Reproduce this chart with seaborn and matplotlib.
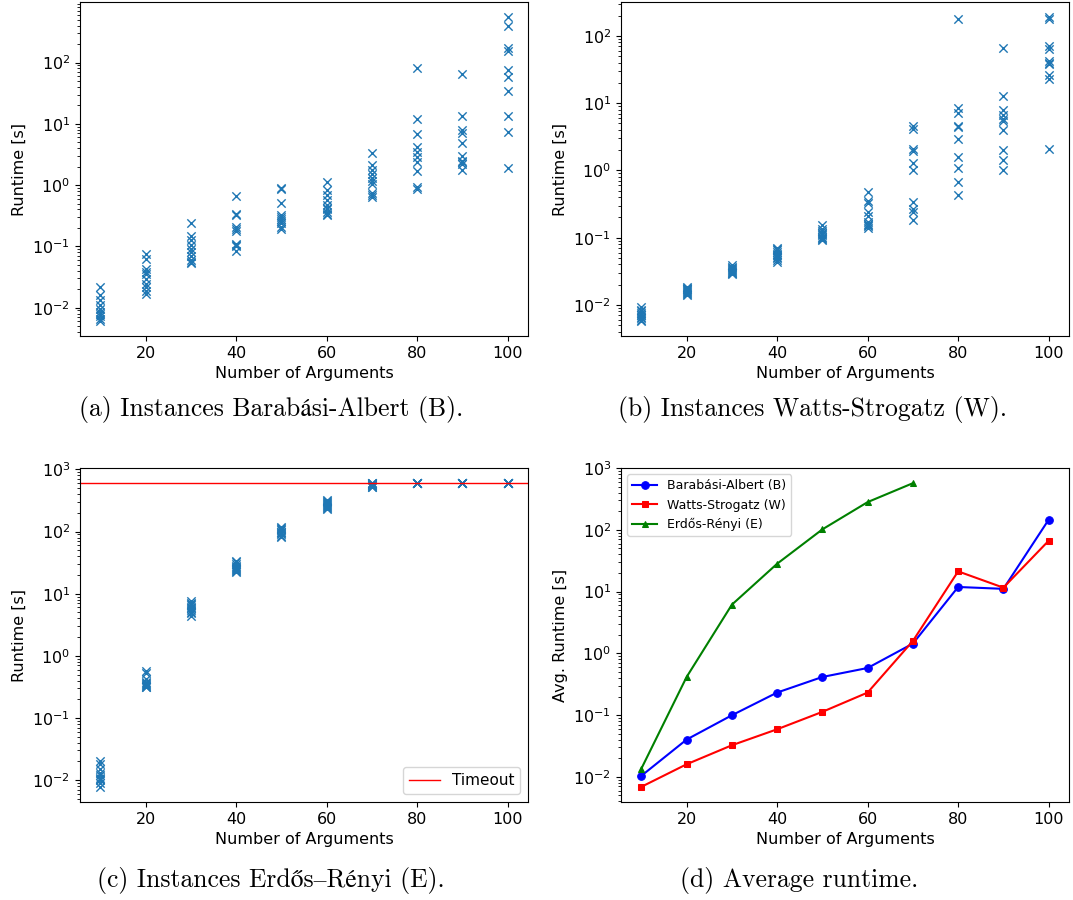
import numpy as np
import pandas as pd
import matplotlib
matplotlib.use("Agg")
import matplotlib.pyplot as plt
import seaborn as sns

# ---------------- data ----------------
n_args = [10, 20, 30, 40, 50, 60, 70, 80, 90, 100]

ba_runtimes = [
    [0.022, 0.016, 0.0135, 0.011, 0.0095, 0.0085, 0.0078, 0.0072, 0.0066, 0.0061],
    [0.074, 0.062, 0.042, 0.038, 0.035, 0.029, 0.024, 0.022, 0.019, 0.0165],
    [0.24, 0.15, 0.125, 0.105, 0.09, 0.08, 0.07, 0.06, 0.056, 0.053],
    [0.66, 0.34, 0.32, 0.21, 0.19, 0.18, 0.11, 0.105, 0.10, 0.085],
    [0.91, 0.85, 0.52, 0.33, 0.30, 0.28, 0.26, 0.24, 0.21, 0.19],
    [1.13, 0.82, 0.70, 0.58, 0.47, 0.43, 0.40, 0.37, 0.34, 0.33],
    [3.4, 2.1, 1.75, 1.5, 1.3, 1.15, 1.05, 0.75, 0.68, 0.65],
    [81, 12, 6.9, 4.2, 3.5, 2.9, 2.4, 1.7, 0.93, 0.88],
    [64, 13.3, 8.0, 7.0, 4.8, 3.0, 2.5, 2.4, 2.2, 1.75],
    [550, 400, 175, 155, 77, 58, 34, 13.6, 7.4, 1.9],
]

ws_runtimes = [
    [0.0092, 0.0085, 0.008, 0.0075, 0.0072, 0.007, 0.0066, 0.0063, 0.006, 0.0058],
    [0.0185, 0.018, 0.0175, 0.017, 0.0165, 0.016, 0.0155, 0.015, 0.0145, 0.014],
    [0.039, 0.037, 0.036, 0.034, 0.033, 0.032, 0.031, 0.030, 0.029, 0.0295],
    [0.071, 0.068, 0.065, 0.062, 0.058, 0.055, 0.052, 0.05, 0.047, 0.044],
    [0.155, 0.135, 0.125, 0.118, 0.112, 0.108, 0.104, 0.10, 0.097, 0.093],
    [0.47, 0.35, 0.33, 0.24, 0.21, 0.17, 0.16, 0.155, 0.15, 0.14],
    [4.5, 4.2, 2.05, 1.95, 1.3, 1.0, 0.34, 0.27, 0.24, 0.18],
    [176, 8.6, 7.2, 4.6, 4.4, 2.9, 1.6, 1.1, 0.68, 0.43],
    [66, 12.6, 8.0, 6.6, 5.9, 5.5, 4.0, 2.0, 1.45, 1.0],
    [190, 178, 71, 65, 43, 40, 38, 26, 23, 2.05],
]

er_runtimes = [
    [0.020, 0.018, 0.015, 0.013, 0.012, 0.011, 0.0105, 0.010, 0.009, 0.0078],
    [0.57, 0.52, 0.42, 0.38, 0.36, 0.35, 0.34, 0.33, 0.32, 0.31],
    [7.5, 7.2, 6.9, 6.5, 6.2, 5.9, 5.5, 5.1, 4.8, 4.4],
    [34, 32, 30, 28, 27, 26, 25, 24, 23, 22],
    [118, 112, 108, 104, 100, 97, 94, 90, 86, 82],
    [320, 305, 295, 285, 275, 265, 258, 250, 240, 230],
    [600, 600, 600, 590, 580, 570, 560, 545, 530, 520],
    [600] * 10,
    [600] * 10,
    [600] * 10,
]

timeout = 600

avg_ba = [0.0104, 0.0402, 0.0995, 0.232, 0.415, 0.580, 1.44, 11.9, 11.1, 146]
avg_ws = [0.0069, 0.016, 0.0325, 0.059, 0.113, 0.232, 1.59, 21.3, 11.6, 66.7]
avg_er_n = [10, 20, 30, 40, 50, 60, 70]
avg_er = [0.0136, 0.415, 6.15, 28.3, 102, 282, 571]

captions = [
    "(a) Instances Barabási-Albert (B).",
    "(b) Instances Watts-Strogatz (W).",
    "(c) Instances Erdős–Rényi (E).",
    "(d) Average runtime.",
]

# ---------------- figure ----------------
W, H = 1073, 900
fig = plt.figure(figsize=(W / 100, H / 100), dpi=100)

def px_axes(left, top, right, bottom):
    return fig.add_axes([left / W, 1 - bottom / H, (right - left) / W, (bottom - top) / H])

TICK_FS = 11.5
LABEL_FS = 11.5

def long_df(runs):
    xs, ys = [], []
    for n, vals in zip(n_args, runs):
        xs += [n] * len(vals)
        ys += list(vals)
    return pd.DataFrame({"n": xs, "t": ys})

def style(ax, ylabel):
    ax.set_yscale("log")
    ax.set_xlabel("Number of Arguments", fontsize=LABEL_FS)
    ax.set_ylabel(ylabel, fontsize=LABEL_FS)
    ax.tick_params(labelsize=TICK_FS)
    ax.set_xticks([20, 40, 60, 80, 100])

axA = px_axes(80, 2, 528, 336)
axB = px_axes(621, 2, 1069, 336)
axC = px_axes(80, 468, 528, 802)
axD = px_axes(621, 468, 1069, 802)

for ax, runs in [(axA, ba_runtimes), (axB, ws_runtimes), (axC, er_runtimes)]:
    sns.scatterplot(data=long_df(runs), x="n", y="t", marker="x", color="#1f77b4",
                    s=36, linewidth=1.0, ax=ax)
    style(ax, "Runtime [s]")

axC.axhline(timeout, color="red", lw=1, label="Timeout")
axC.legend(loc="lower right", fontsize=11)

sns.lineplot(x=n_args, y=avg_ba, marker="o", color="blue", markeredgecolor="blue",
             markersize=5.5, lw=1.5, label="Barabási-Albert (B)", ax=axD)
sns.lineplot(x=n_args, y=avg_ws, marker="s", color="red", markeredgecolor="red",
             markersize=5, lw=1.5, label="Watts-Strogatz (W)", ax=axD)
sns.lineplot(x=avg_er_n, y=avg_er, marker="^", color="green", markeredgecolor="green",
             markersize=5, lw=1.5, label="Erdős-Rényi (E)", ax=axD)
style(axD, "Avg. Runtime [s]")
axD.legend(loc="upper left", fontsize=9)

cap_font = ["cmr10", "STIXGeneral"]
cap_pos = [(271, 410), (812, 410), (271, 880), (799, 880)]
for (cx, cy), txt in zip(cap_pos, captions):
    fig.text(cx / W, 1 - cy / H, txt, ha="center", va="center",
             fontsize=18.5, family=cap_font)

fig.savefig("out.png", dpi=100)
